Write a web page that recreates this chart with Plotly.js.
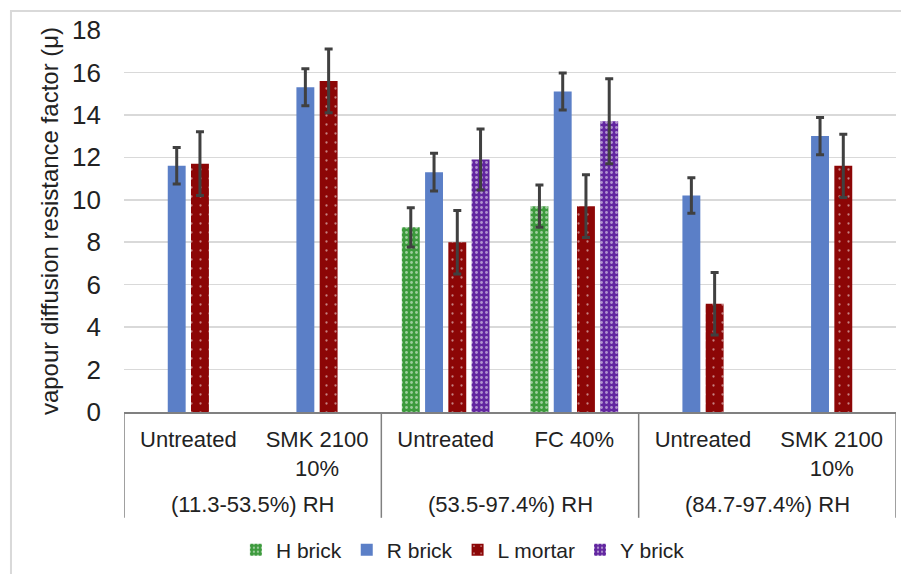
<!DOCTYPE html>
<html>
<head>
<meta charset="utf-8">
<script src="https://cdn.plot.ly/plotly-3.0.1.min.js"></script>
<style>html,body{margin:0;padding:0;background:#fff;}#chart{width:901px;height:574px;}</style>
</head>
<body>
<div id="chart"></div>
<script>
const groupNames = ['(11.3-53.5%) RH','(53.5-97.4%) RH','(84.7-97.4%) RH'];
const groups = ['(11.3-53.5%) RH','(11.3-53.5%) RH','(53.5-97.4%) RH','(53.5-97.4%) RH','(84.7-97.4%) RH','(84.7-97.4%) RH'];
const subs = ['Untreated','SMK 2100<br>10%','Untreated','FC 40%','Untreated','SMK 2100<br>10%'];
const seriesNames = ['H brick','R brick','L mortar','Y brick'];
const hBrick = [null, null, 8.7, 9.7, null, null];
const hErr   = [null, null, 0.92, 1.0, null, null];
const rBrick = [11.6, 15.3, 11.3, 15.1, 10.2, 13.0];
const rErr   = [0.86, 0.87, 0.89, 0.87, 0.84, 0.88];
const lMortar = [11.7, 15.6, 8.0, 9.7, 5.1, 11.6];
const lErr    = [1.5, 1.5, 1.5, 1.48, 1.47, 1.49];
const yBrick = [null, null, 11.9, 13.7, null, null];
const yErr   = [null, null, 1.44, 2.0, null, null];

// unique category keys built from group + sub label
const cats = groups.map((g, i) => g + ' | ' + subs[i]);

const err = (a) => ({type:'data', array:a, visible:true, color:'#404040', thickness:3, width:4});
const traces = [
  {type:'bar', name:seriesNames[0], x:cats, y:hBrick, error_y:err(hErr),
   marker:{color:'#3c9a3c', line:{width:0}, pattern:{shape:'.', fillmode:'overlay', fgcolor:'#ffffff', bgcolor:'#3c9a3c', size:5, solidity:0.25}}},
  {type:'bar', name:seriesNames[1], x:cats, y:rBrick, error_y:err(rErr),
   marker:{color:'#5b7fc7', line:{width:0}}},
  {type:'bar', name:seriesNames[2], x:cats, y:lMortar, error_y:err(lErr),
   marker:{color:'#8c0606', line:{width:0}, pattern:{shape:'.', fillmode:'overlay', fgcolor:'#ffffff', bgcolor:'#8c0606', size:9, solidity:0.05}}},
  {type:'bar', name:seriesNames[3], x:cats, y:yBrick, error_y:err(yErr),
   marker:{color:'#6226a0', line:{width:0}, pattern:{shape:'.', fillmode:'overlay', fgcolor:'#ffffff', bgcolor:'#6226a0', size:5, solidity:0.25}}}
];

// group labels and divider lines of the two-level category axis
const annotations = groupNames.map((g, k) => ({
  xref:'x', yref:'paper', x:2*k + 0.5, y:-0.2428, text:g, showarrow:false,
  xanchor:'center', yanchor:'middle', font:{size:22, color:'#222222'}
}));
const dividerPos = [-0.5, 1.5, 3.5, 5.5];
const shapes = dividerPos.map(p => ({
  type:'line', xref:'x', yref:'paper', x0:p, x1:p, y0:0, y1:-0.277,
  line:{color:'#808080', width:1.5}
}));
shapes.push({type:'rect', xref:'paper', yref:'paper', x0:-0.1464, x1:1.2, y0:-1, y1:1.0496,
             line:{color:'#d9d9d9', width:2}, fillcolor:'rgba(0,0,0,0)', layer:'below'});

const layout = {
  width:901, height:574,
  margin:{l:124, r:5, t:30, b:161},
  paper_bgcolor:'#ffffff', plot_bgcolor:'#ffffff',
  font:{family:'"Liberation Sans", Arial, sans-serif', color:'#222222'},
  barmode:'group', bargap:0.277, bargroupgap:0.23,
  showlegend:true,
  legend:{orientation:'h', x:0.439, xanchor:'center', y:-0.358, yanchor:'middle',
          font:{size:21, color:'#222222'}, itemwidth:30, traceorder:'normal'},
  xaxis:{type:'category', tickvals:cats, ticktext:subs, range:[-0.5, 5.5],
         showline:true, linecolor:'#808080', linewidth:1.5, ticks:'', ticklabelstandoff:7,
         tickfont:{size:22, color:'#222222'}, showgrid:false, zeroline:false},
  yaxis:{range:[0,18], dtick:2, showgrid:true, gridcolor:'#d9d9d9', gridwidth:1.5,
         zeroline:false, showline:false, ticks:'', ticklabelstandoff:22,
         tickfont:{size:26, color:'#222222'},
         title:{text:'vapour diffusion resistance factor (μ)', font:{size:24, color:'#222222'}, standoff:6}},
  annotations:annotations,
  shapes:shapes
};
Plotly.newPlot('chart', traces, layout, {displayModeBar:false, staticPlot:true});
</script>
</body>
</html>
